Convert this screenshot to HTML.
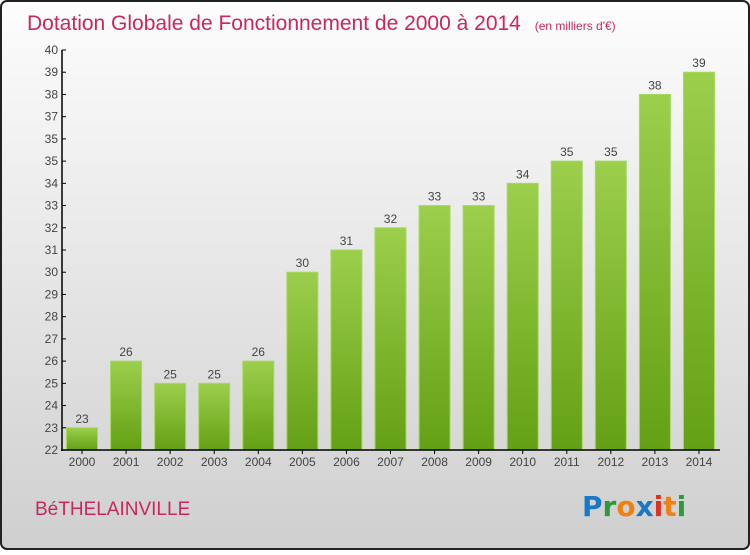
<!DOCTYPE html>
<html><head><meta charset="utf-8"><style>
body{margin:0;width:750px;height:550px;overflow:hidden;font-family:"Liberation Sans",sans-serif}
</style></head><body>
<svg id="c" width="750" height="550" xmlns="http://www.w3.org/2000/svg">
<defs>
<linearGradient id="bg" x1="0" y1="0" x2="0" y2="1"><stop offset="0" stop-color="#fdfdfd"/><stop offset="1" stop-color="#cfcfcf"/></linearGradient>
<linearGradient id="bar" x1="0" y1="0" x2="0" y2="1"><stop offset="0" stop-color="#9ccf4c"/><stop offset="1" stop-color="#64a015"/></linearGradient>
</defs>
<rect x="1" y="1" width="748" height="548" rx="6" fill="url(#bg)" stroke="#222" stroke-width="2"/>
<text x="27" y="30" font-size="21" fill="#c8285a">Dotation Globale de Fonctionnement de 2000 à 2014 <tspan font-size="12" dx="8">(en milliers d'€)</tspan></text>
<text x="35" y="515" font-size="19" fill="#c8285a">BéTHELAINVILLE</text>
<g font-size="28" font-weight="bold" font-family="'DejaVu Sans',sans-serif">
<text x="582" y="516"><tspan fill="#1a78c8">P</tspan><tspan fill="#2a9a3a">r</tspan><tspan fill="#f08010">o</tspan><tspan fill="#1a78c8">x</tspan><tspan fill="#e03020">i</tspan><tspan fill="#f08010">t</tspan><tspan fill="#2a9a3a">i</tspan></text>
</g>
<g id="plot"></g>
</svg>
<script>
const years=["2000","2001","2002","2003","2004","2005","2006","2007","2008","2009","2010","2011","2012","2013","2014"];
const values=[23,26,25,25,26,30,31,32,33,33,34,35,35,38,39];
const tickValues=[22,23,24,25,26,27,28,29,30,31,32,33,34,35,36,37,38,39,40];
const tickLabels=["22","23","24","25","26","27","28","29","30","31","32","33","34","35","35","37","38","39","40"];
const NS="http://www.w3.org/2000/svg";
const g=document.getElementById('plot');
const y=v=>450-(v-22)*400/18;
const x=i=>82+i*44.07;
function mk(t,a,txt){const e=document.createElementNS(NS,t);for(const k in a)e.setAttribute(k,a[k]);if(txt!=null)e.textContent=txt;g.appendChild(e);return e;}
values.forEach((v,i)=>{
 const r=mk('rect',{x:x(i)-15.5,y:y(v),width:31,height:450-y(v),fill:'url(#bar)',stroke:'#a8d860','stroke-width':1});
 
 
 const l=mk('text',{x:x(i),y:y(v)-5,'font-size':12,fill:'#444','text-anchor':'middle'},String(v));
 
 
 const xl=mk('text',{x:x(i),y:466,'font-size':12,fill:'#444','text-anchor':'middle'},years[i]);
 
 
 const xt=mk('line',{x1:x(i),x2:x(i),y1:450,y2:454,stroke:'#000'});
 
 
});
tickValues.forEach((v,i)=>{
 const t=mk('line',{x1:62,x2:66,y1:y(v),y2:y(v),stroke:'#000'});
 
 
 const l=mk('text',{x:58,y:y(v)+4,'font-size':12,fill:'#444','text-anchor':'end'},tickLabels[i]);
 
 
});
const ya=mk('line',{x1:62,x2:62,y1:50,y2:451,stroke:'#000','stroke-width':1.5});


const xa=mk('line',{x1:61,x2:720,y1:450,y2:450,stroke:'#000','stroke-width':1.5});


</script>
</body></html>
